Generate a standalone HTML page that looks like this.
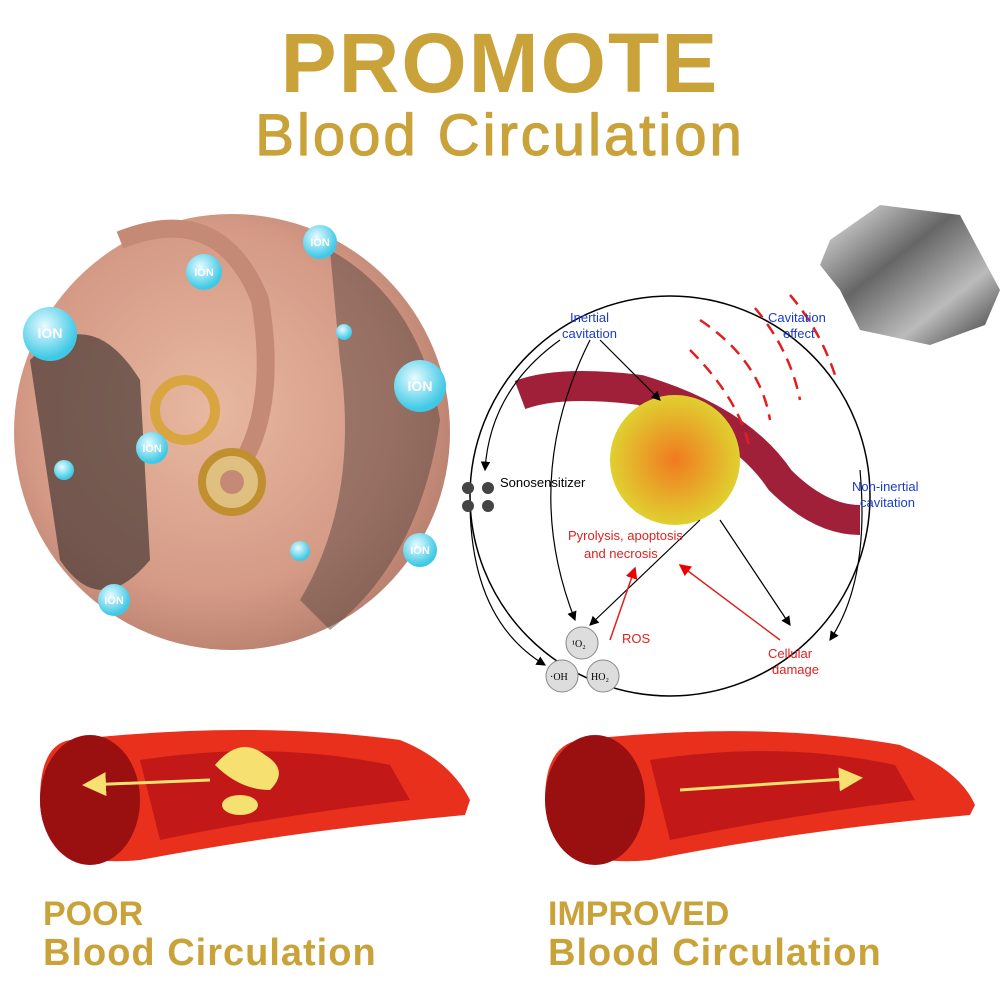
<!DOCTYPE html>
<html><head><meta charset="utf-8"><style>
body{margin:0;width:1000px;height:1000px;background:#fff;overflow:hidden;position:relative;font-family:"Liberation Sans",sans-serif}
.g{position:absolute;color:#c9a23a;font-weight:bold;white-space:nowrap}
</style></head><body>
<div class="g" style="left:0;width:1000px;text-align:center;top:18px;font-size:84px;line-height:90px;letter-spacing:2px">PROMOTE</div>
<div class="g" style="left:0;width:1000px;text-align:center;top:104px;font-size:58px;line-height:64px;font-weight:normal;letter-spacing:3px;-webkit-text-stroke:1.2px #c9a23a">Blood Circulation</div>
<svg width="1000" height="1000" style="position:absolute;left:0;top:0">
<defs>
<radialGradient id="skin" cx="45%" cy="45%" r="60%"><stop offset="0" stop-color="#e8b8a0"/><stop offset="0.7" stop-color="#d49a86"/><stop offset="1" stop-color="#b57d6c"/></radialGradient>
<radialGradient id="ion" cx="40%" cy="35%" r="60%"><stop offset="0" stop-color="#e8fbff"/><stop offset="1" stop-color="#3fc9e6"/></radialGradient>
<radialGradient id="tum" cx="50%" cy="50%" r="50%"><stop offset="0" stop-color="#f07a20"/><stop offset="1" stop-color="#e0d030"/></radialGradient>
<linearGradient id="rock" x1="0" y1="0" x2="1" y2="1"><stop offset="0" stop-color="#eee"/><stop offset="0.4" stop-color="#666"/><stop offset="0.7" stop-color="#bbb"/><stop offset="1" stop-color="#333"/></linearGradient>
<marker id="a" markerWidth="8" markerHeight="8" refX="7" refY="4" orient="auto"><path d="M0,0L8,4L0,8z" fill="#000"/></marker>
<marker id="r" markerWidth="8" markerHeight="8" refX="7" refY="4" orient="auto"><path d="M0,0L8,4L0,8z" fill="#e00"/></marker>
<marker id="y" markerWidth="8" markerHeight="8" refX="7" refY="4" orient="auto"><path d="M0,0L8,4L0,8z" fill="#f5e070"/></marker>
</defs>
<circle cx="232" cy="432" r="218" fill="url(#skin)"/>
<path d="M30,360 Q90,300 140,380 L150,560 Q100,620 60,560 Z" fill="#4a3a36" opacity="0.7"/>
<path d="M330,250 Q420,300 440,420 Q420,560 330,630 L300,600 Q360,500 340,360 Z" fill="#5a4540" opacity="0.5"/>
<path d="M120,240 Q220,200 260,300 Q280,420 230,480" fill="none" stroke="#c58a76" stroke-width="18"/>
<circle cx="185" cy="410" r="30" fill="none" stroke="#d9a540" stroke-width="10"/>
<circle cx="232" cy="482" r="30" fill="#e0c080" stroke="#c09030" stroke-width="8"/>
<circle cx="232" cy="482" r="12" fill="#c58a76"/>
<g font-size="11" font-weight="bold" fill="#fff" text-anchor="middle">
<circle cx="50" cy="334" r="27" fill="url(#ion)"/><text x="50" y="338" font-size="14">ION</text>
<circle cx="204" cy="272" r="18" fill="url(#ion)"/><text x="204" y="276">ION</text>
<circle cx="320" cy="242" r="17" fill="url(#ion)"/><text x="320" y="246">ION</text>
<circle cx="420" cy="386" r="26" fill="url(#ion)"/><text x="420" y="391" font-size="14">ION</text>
<circle cx="152" cy="448" r="16" fill="url(#ion)"/><text x="152" y="452">ION</text>
<circle cx="420" cy="550" r="17" fill="url(#ion)"/><text x="420" y="554">ION</text>
<circle cx="114" cy="600" r="16" fill="url(#ion)"/><text x="114" y="604">ION</text>
<circle cx="344" cy="332" r="8" fill="url(#ion)"/>
<circle cx="64" cy="470" r="10" fill="url(#ion)"/>
<circle cx="300" cy="551" r="10" fill="url(#ion)"/>
</g>
<path d="M830,240 L880,205 L960,215 L1000,290 L985,325 L930,345 L860,330 L840,290 L820,265 Z" fill="url(#rock)"/>
<circle cx="670" cy="496" r="200" fill="none" stroke="#000" stroke-width="1.5"/>
<path d="M520,395 Q560,380 640,390 Q740,420 780,480 Q820,520 860,520" fill="none" stroke="#a0203a" stroke-width="30" stroke-linecap="butt"/>
<circle cx="675" cy="460" r="65" fill="url(#tum)"/>
<g stroke="#e02020" stroke-width="2.5" fill="none" stroke-dasharray="12,8">
<path d="M790,295 Q820,330 835,375"/><path d="M755,308 Q790,350 800,400"/><path d="M700,320 Q760,360 770,420"/><path d="M690,350 Q740,400 750,450"/>
</g>
<g stroke="#000" stroke-width="1.2" fill="none" marker-end="url(#a)">
<path d="M560,340 Q490,390 485,470"/><path d="M590,340 Q520,480 575,620"/><path d="M600,340 L660,400"/>
<path d="M470,500 Q470,620 545,665"/><path d="M860,470 Q870,580 830,640"/><path d="M720,520 L790,625"/>
<path d="M700,520 L590,625"/>
</g>
<g stroke="#e02020" stroke-width="1.5" marker-end="url(#r)">
<line x1="610" y1="640" x2="635" y2="568"/><line x1="780" y1="640" x2="680" y2="565"/>
</g>
<g fill="#444"><circle cx="468" cy="488" r="6"/><circle cx="488" cy="488" r="6"/><circle cx="468" cy="506" r="6"/><circle cx="488" cy="506" r="6"/></g>
<g fill="#ddd" stroke="#888"><circle cx="582" cy="643" r="16"/><circle cx="562" cy="676" r="16"/><circle cx="603" cy="676" r="16"/></g>
<g font-size="13" fill="#1a3bd0">
<text x="570" y="322">Inertial</text><text x="562" y="338">cavitation</text>
<text x="768" y="322">Cavitation</text><text x="783" y="338">effect</text>
<text x="852" y="491">Non-inertial</text><text x="860" y="507">cavitation</text>
</g>
<text x="500" y="487" font-size="13">Sonosensitizer</text>
<g font-size="13" fill="#e02020">
<text x="568" y="540">Pyrolysis, apoptosis</text><text x="584" y="558">and necrosis</text>
<text x="622" y="643">ROS</text>
<text x="768" y="658">Cellular</text><text x="772" y="674">damage</text>
</g>
<g font-size="10" font-family="Liberation Serif"><text x="572" y="647">¹O₂</text><text x="550" y="680">·OH</text><text x="591" y="680">HO₂</text></g>
<path d="M70,740 Q250,720 400,740 Q450,760 470,800 L465,815 Q300,830 140,860 Q40,870 40,800 Q40,745 70,740Z" fill="#e8301c"/>
<ellipse cx="90" cy="800" rx="50" ry="65" fill="#9a1010"/>
<path d="M140,760 Q270,740 390,765 L410,800 Q280,815 160,840 Z" fill="#c21818"/>
<path d="M215,765 Q240,735 265,755 Q290,770 270,790 Q240,790 215,765Z" fill="#f5e070"/>
<ellipse cx="240" cy="805" rx="18" ry="10" fill="#f5e070"/>
<line x1="210" y1="780" x2="85" y2="785" stroke="#f5e070" stroke-width="3" marker-end="url(#y)"/>
<path d="M580,740 Q760,720 900,745 Q960,770 975,805 L970,815 Q800,830 650,860 Q550,870 545,800 Q545,745 580,740Z" fill="#e8301c"/>
<ellipse cx="595" cy="800" rx="50" ry="65" fill="#9a1010"/>
<path d="M650,760 Q780,740 895,765 L915,800 Q790,815 670,840 Z" fill="#c21818"/>
<line x1="680" y1="790" x2="860" y2="778" stroke="#f5e070" stroke-width="3" marker-end="url(#y)"/>
</svg>
<div class="g" style="left:43px;top:895px;font-size:34px">POOR</div>
<div class="g" style="left:43px;top:932px;font-size:38px;letter-spacing:1px">Blood Circulation</div>
<div class="g" style="left:548px;top:895px;font-size:34px">IMPROVED</div>
<div class="g" style="left:548px;top:932px;font-size:38px;letter-spacing:1px">Blood Circulation</div>
</body></html>
